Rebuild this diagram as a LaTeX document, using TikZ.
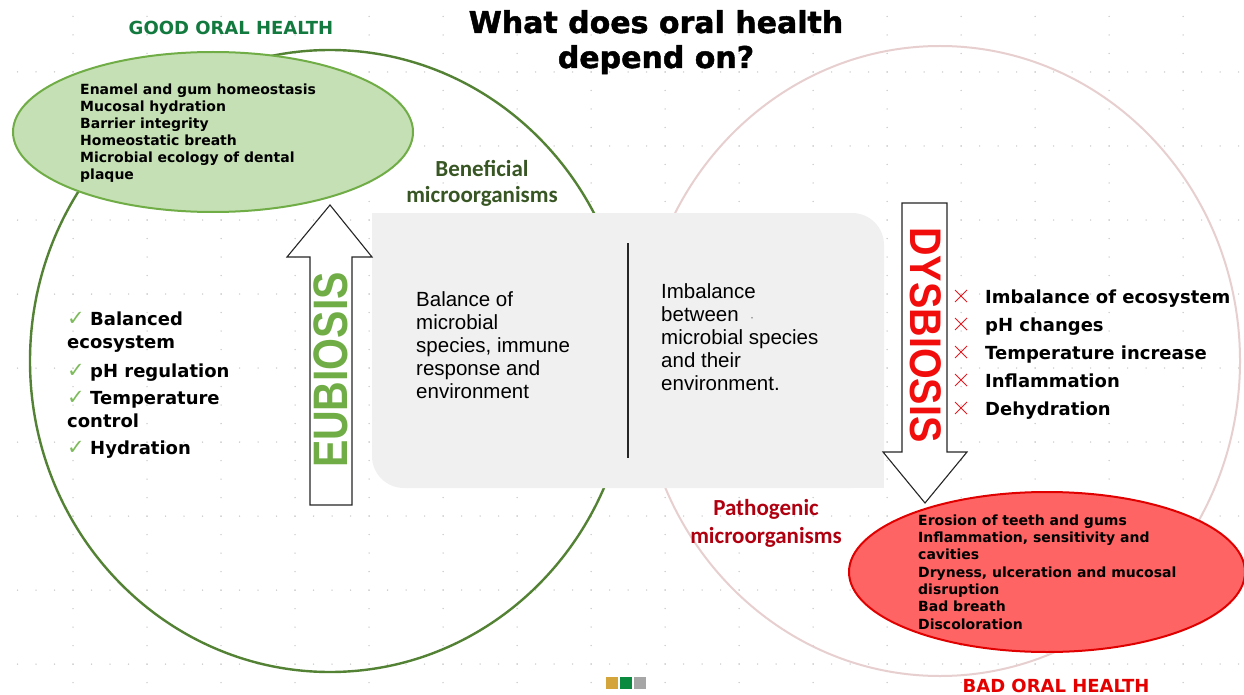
\documentclass[tikz,border=0pt]{standalone}
\usepackage{fontspec}
\setmainfont{Liberation Sans}
\newfontfamily\dvsans{DejaVu Sans}
\newfontfamily\dvheavy{DejaVu Sans}[BoldFeatures={FakeBold=1.5}]
\newfontfamily\libsans{Liberation Sans}
\newfontfamily\calibrifont{Carlito}
\definecolor{dotc}{HTML}{C8C8C8}
\definecolor{circgreen}{HTML}{548235}
\definecolor{circpink}{HTML}{E8CFCF}
\definecolor{ellgreenfill}{HTML}{C5E0B4}
\definecolor{ellgreenline}{HTML}{70AD47}
\definecolor{ellredfill}{HTML}{FF6464}
\definecolor{ellredline}{HTML}{E00000}
\definecolor{goodtitle}{HTML}{137A3F}
\definecolor{badtitle}{HTML}{E50000}
\definecolor{benef}{HTML}{375623}
\definecolor{patho}{HTML}{B00010}
\definecolor{eubio}{HTML}{70AD47}
\definecolor{dysbio}{HTML}{F20D0D}
\definecolor{boxgray}{HTML}{F0F0F0}
\definecolor{chk}{HTML}{7DBB5B}
\definecolor{crossred}{HTML}{E31B23}
\definecolor{sqgold}{HTML}{D4A53A}
\definecolor{sqgreen}{HTML}{0A8A3E}
\definecolor{sqgray}{HTML}{A6A6A6}
\tikzset{
  listtext/.style={inner sep=0pt, anchor=base west, align=left},
  plaintext/.style={inner sep=0pt, anchor=base west, align=left, font={\libsans\fontsize{20.5}{23}\selectfont}},
  bigarrow/.style={draw=black!85, line width=1.1pt, fill=white},
  crossmark/.style={draw=crossred, line width=1pt}
}
\begin{document}
\begin{tikzpicture}[x=1pt,y=-1pt]
\useasboundingbox (0,0) rectangle (1244,695);
\fill[white] (0,0) rectangle (1244,695);
% faint dot grid
\foreach \r in {72,146,...,665} {\foreach \c in {-1,17.5,...,1245} {\fill[dotc] (\c,\r) circle (0.75);}}
\foreach \c in {73,147,...,1244} {\foreach \r in {-2,16.5,...,696} {\fill[dotc] (\c,\r) circle (0.75);}}
% big circles
\draw[circgreen, line width=2.4pt] (330,361) ellipse [x radius=300, y radius=311];
\draw[circpink, line width=2pt] (940,361) ellipse [x radius=300, y radius=315];
% green ellipse
\draw[ellgreenline, line width=2pt, fill=ellgreenfill] (213,132) ellipse [x radius=200, y radius=80];
% gray central box
\fill[boxgray, rounded corners=32pt] (372,213) rectangle (884,488);
\fill[boxgray] (372,213) rectangle (430,270);
\fill[boxgray] (826,430) rectangle (884,488);
\coordinate (divtop) at (628,243);
\coordinate (divbot) at (628,458);
\draw[black!85, line width=1.1pt] (divtop) -- (divbot);
% red ellipse
\draw[ellredline, line width=2pt, fill=ellredfill] (1047,572) ellipse [x radius=198, y radius=80];
% arrows
\draw[bigarrow] (310,505) -- (310,257) -- (287,257) -- (330,205) -- (372,257) -- (352,257) -- (352,505) -- cycle;
\draw[bigarrow] (902,203) -- (947,203) -- (947,452) -- (967,452) -- (925,503) -- (883,452) -- (902,452) -- cycle;
\node[inner sep=0pt, rotate=90, text=eubio, font={\libsans\bfseries\fontsize{41}{41}\selectfont}] (eub) at (331,370) {\scalebox{1}[1.18]{EUBIOSIS}};
\node[inner sep=0pt, rotate=-90, text=dysbio, font={\libsans\bfseries\fontsize{39.5}{39.5}\selectfont}] (dys) at (926,335) {\scalebox{1}[1.12]{DYSBIOSIS}};
% titles (anchor = baseline of last line)
\node[inner sep=0pt, anchor=base, align=center, font={\dvheavy\bfseries\fontsize{30}{35}\selectfont}] (title) at (656,68) {What does oral health\\depend on?};
\node[inner sep=0pt, anchor=base, text=goodtitle, font={\dvsans\bfseries\fontsize{18}{18}\selectfont}] (good) at (231,35) {GOOD ORAL HEALTH};
\node[inner sep=0pt, anchor=base, text=badtitle, font={\dvsans\bfseries\fontsize{18}{18}\selectfont}] (bad) at (1056,692) {BAD ORAL HEALTH};
% micro-organism labels
\node[inner sep=0pt, anchor=base, align=center, text=benef, font={\calibrifont\bfseries\fontsize{23}{26}\selectfont}] (benefl) at (482,203) {Beneficial\\microorganisms};
\node[inner sep=0pt, anchor=base, align=center, text=patho, font={\calibrifont\bfseries\fontsize{23}{28}\selectfont}] (patho) at (766,543) {Pathogenic\\microorganisms};
% ellipse texts
\node[listtext, font={\dvsans\bfseries\fontsize{14}{17.1}\selectfont}] (goodlist) at (80,180) {Enamel and gum homeostasis\\Mucosal hydration\\Barrier integrity\\Homeostatic breath\\Microbial ecology of dental\\plaque};
\node[listtext, font={\dvsans\bfseries\fontsize{14}{17.3}\selectfont}] (badlist) at (918,629) {Erosion of teeth and gums\\Inflammation, sensitivity and\\cavities\\Dryness, ulceration and mucosal\\disruption\\Bad breath\\Discoloration};
% central texts
\node[plaintext] (balance) at (416,398) {Balance of\\microbial\\species, immune\\response and\\environment};
\node[plaintext] (imbalance) at (661,390) {Imbalance\\between \ {\fontsize{12}{12}\selectfont\textcolor{black!60}{·}}\\microbial species\\and their\\environment.};
% left check list
\tikzset{chkitem/.style={listtext, font={\dvsans\bfseries\fontsize{18}{23}\selectfont}}}
\newcommand{\chkm}{\makebox[23pt][l]{\textcolor{chk}{\dvsans\mdseries\fontsize{21}{21}\selectfont ✓}}}
\node[chkitem] (c1) at (67,348) {\chkm Balanced\\ecosystem};
\node[chkitem] (c2) at (67,377) {\chkm pH regulation};
\node[chkitem] (c3) at (67,427) {\chkm Temperature\\control};
\node[chkitem] (c4) at (67,454) {\chkm Hydration};
% right cross list
\node[listtext, font={\dvsans\bfseries\fontsize{18}{28}\selectfont}] (xlist) at (985,415) {Imbalance of ecosystem\\pH changes\\Temperature increase\\Inflammation\\Dehydration};
\foreach \b in {303,331,359,387,415} {
  \draw[crossmark] (955,\b-13) -- (967,\b-1);
  \draw[crossmark] (955,\b-1) -- (967,\b-13);
}
% bottom squares
\fill[sqgold] (606,677) rectangle (618,689);
\fill[sqgreen] (620,677) rectangle (632,689);
\fill[sqgray] (634,677) rectangle (646,689);
\end{tikzpicture}
\end{document}
